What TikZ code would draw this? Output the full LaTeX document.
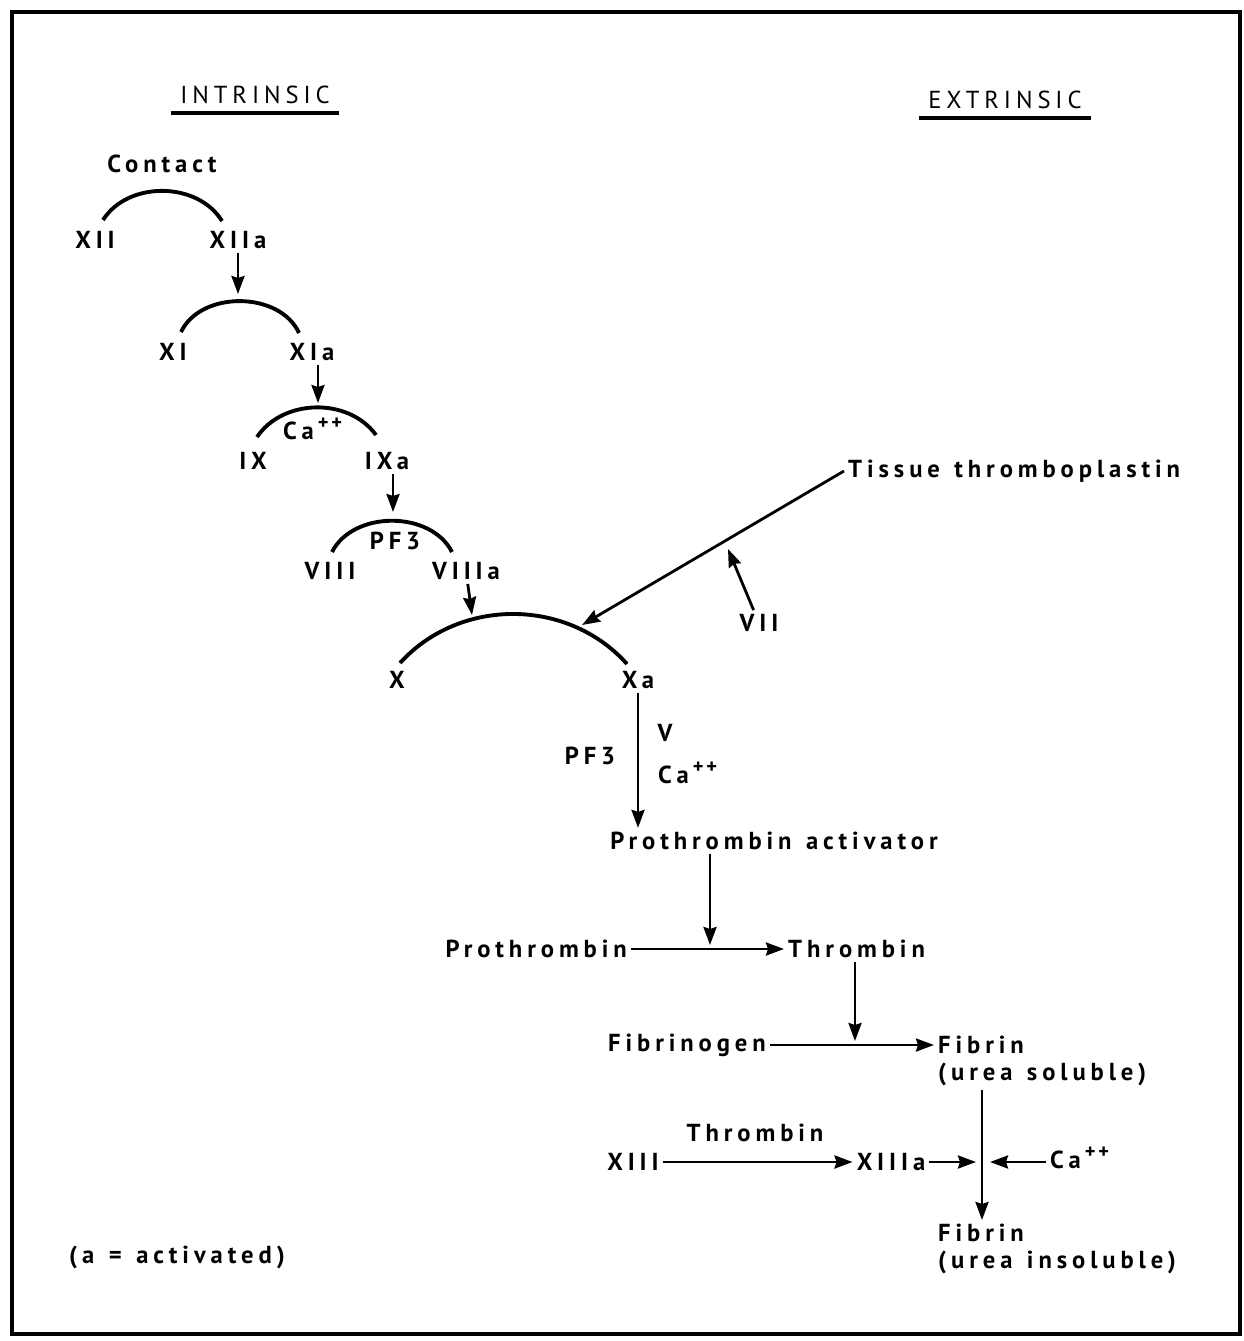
\documentclass[tikz,border=0pt]{standalone}
\usepackage{fontspec}
\setmainfont[LetterSpace=20, WordSpace=1.3]{PT Sans}
\usetikzlibrary{positioning,arrows.meta,calc}
\newcommand{\caion}{Ca\,\raisebox{0.75ex}{\fontsize{5.8}{6}\selectfont +\kern0.8pt+}}

\begin{document}
\begin{tikzpicture}[
  x=0.1mm, y=-0.1mm,
  every node/.append style={font=\fontsize{7}{7.7}\selectfont\bfseries, inner sep=1pt},
  heading/.style={inner xsep=0.9mm, inner ysep=0.8mm},
  uline/.style={line width=1.2pt},
  arcline/.style={line width=1.1pt},
  flow/.style={line width=0.8pt, -{Stealth[length=1.8mm,width=1.3mm,inset=0.2mm]}},
  twoline/.style={align=left, anchor=north west}
]
\useasboundingbox (0,0) rectangle (1244,1341);
\draw[line width=0.9pt] (12,12) rectangle (1240,1334);

% headings
\node[heading] (intr) at (255,95) {\mdseries INTRINSIC};
\node[heading] (extr) at (1005,100) {\mdseries EXTRINSIC};
\draw[uline] (intr.south west) -- (intr.south east);
\draw[uline] (extr.south west) -- (extr.south east);

% intrinsic cascade
\node (contact) at (162,164) {Contact};
\node (xii)  at (95,240)  {XII};
\node (xiia) at (238,240) {XIIa};
\node (xi)   at (173,352) {XI};
\node (xia)  at (312,352) {XIa};
\node (ix)   at (253,461) {IX};
\node (ixa)  at (387,461) {IXa};
\node[anchor=west] (ca1) at (279,429) {\caion};
\node (viii)  at (330,571) {VIII};
\node (viiia) at (466,571) {VIIIa};
\node (pf1)   at (395,541) {PF3};
\node (x)  at (397,680) {X};
\node (xa) at (638,680) {Xa};

\coordinate (l1) at (103,220); \coordinate (r1) at (222,221);
\coordinate (l2) at (181,332); \coordinate (r2) at (299,333);
\coordinate (l3) at (257,437); \coordinate (r3) at (376,435);
\coordinate (l4) at (332,552); \coordinate (r4) at (452,552);
\coordinate (l5) at (400,663); \coordinate (r5) at (627,664);
\foreach \n/\b in {1/58, 2/65, 3/55, 4/63, 5/48}
  \draw[arcline] (l\n) to[bend left=\b] (r\n);

\coordinate (t2) at (238,294);
\coordinate (t3) at (318,403);
\coordinate (t4) at (393,512);
\coordinate (t5) at (472,615);
\draw[flow] (xiia) -- (t2);
\draw[flow] (xia.south -| t3) -- (t3);
\draw[flow] (ixa.south -| t4) -- (t4);
\draw[flow] (viiia) -- (t5);

% extrinsic
\node[anchor=west] (tissue) at (844,471) {Tissue thromboplastin};
\node (vii) at (759,623) {VII};
\coordinate (hx) at (582,625);
\coordinate (vt) at (728,549);
\draw[flow] (tissue.west) -- (hx);
\draw[flow] (vii) -- (vt);

% common pathway
\node (v)   at (665,733) {V};
\node (pf2) at (590,756) {PF3};
\node[anchor=west] (ca2) at (654,773) {\caion};
\node (pta) at (774,841) {Prothrombin activator};
\draw[flow] (xa.south) -- (xa.south |- pta.north);

\node[anchor=east] (prothr) at (631,949) {Prothrombin};
\node[anchor=west] (thr) at (784,949) {Thrombin};
\coordinate (m1) at (710,945);
\draw[flow] (prothr) -- (thr);
\draw[flow] (pta.south -| m1) -- (m1);

\node[anchor=east] (fibgen) at (770,1045) {Fibrinogen};
\node[twoline] (fib1) at (934,1032) {Fibrin\\(urea soluble)};
\coordinate (m2) at (855,1041);
\draw[flow] (fibgen.east) -- (fibgen.east -| fib1.west);
\draw[flow] (thr.south -| m2) -- (m2);

\node (xiii)  at (633,1162) {XIII};
\node (xiiia) at (891,1162) {XIIIa};
\node (thr2)  at (755,1133) {Thrombin};
\node[anchor=west] (ca3) at (1046,1158) {\caion};
\node[twoline] (fib2) at (934,1220) {Fibrin\\(urea insoluble)};
\coordinate (m3) at (982,1162);
\coordinate (m3l) at (976,1162);
\coordinate (m3r) at (990,1162);
\draw[flow] (xiii) -- (xiiia);
\draw[flow] (xiiia) -- (m3l);
\draw[flow] (ca3.west |- m3r) -- (m3r);
\draw[flow] (fib1.south -| m3) -- (fib2.north -| m3);

\node (act) at (177,1257) {(a = activated)};
\end{tikzpicture}
\end{document}
